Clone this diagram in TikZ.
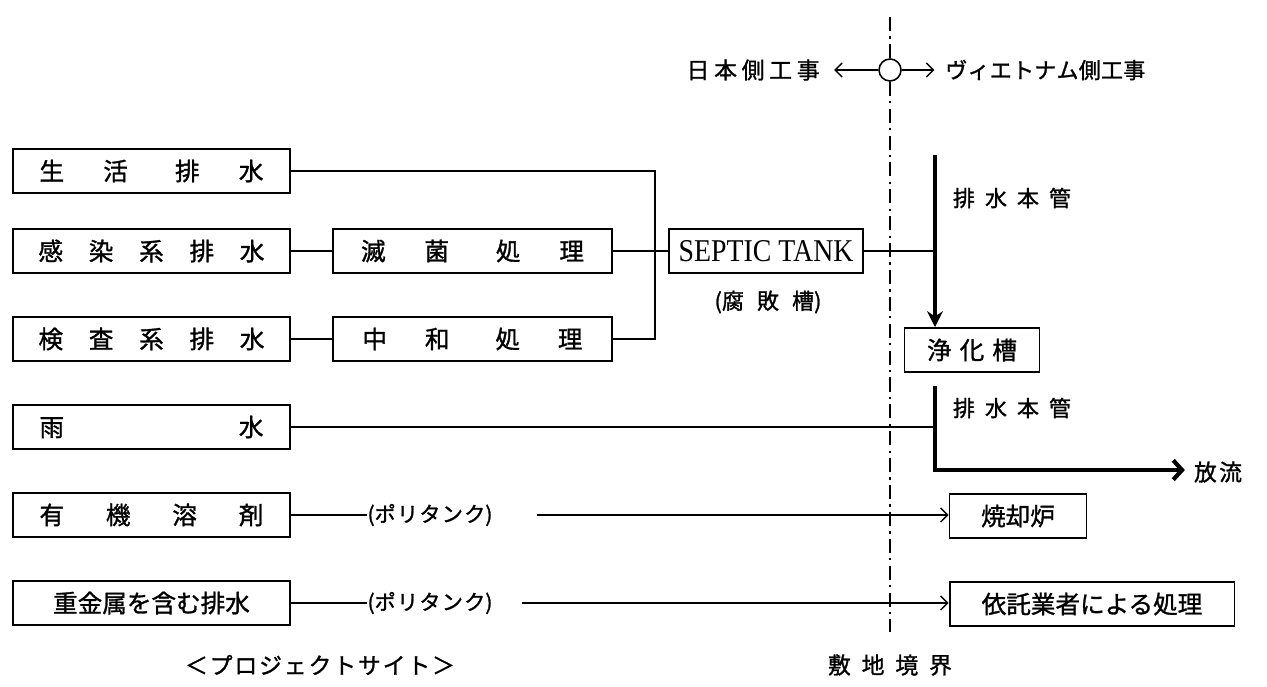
\documentclass[tikz,border=0pt]{standalone}
\usepackage{fontspec}
\setmainfont{Liberation Serif}
\newfontfamily\jp[AutoFakeBold=1.2]{Noto Sans CJK JP}
\usetikzlibrary{arrows.meta}
\newdimen\px \px=0.56906pt
\def\pxv{0.56906pt}
\newcommand\spr[2]{\makebox[#1\px][s]{#2}}
\tikzset{
  bx/.style={draw, line width=1.1pt, inner sep=0pt, minimum height=44*\pxv, font=\jp\bfseries\fontsize{14}{16}\selectfont},
  lbox/.style={bx, minimum width=277*\pxv},
  mbox/.style={bx, minimum width=279*\pxv},
  lab/.style={inner sep=0pt, font=\jp\bfseries\fontsize{12.5}{14}\selectfont},
  ln/.style={line width=0.8pt},
  pipe/.style={line width=2.4pt},
  bnd/.style={line width=1.5pt, dash pattern=on 8pt off 3pt on 1.3pt off 3pt},
  thin arrow/.style={-{Straight Barb[length=4pt,width=8pt]}},
}
\begin{document}
\begin{tikzpicture}[x=0.02cm,y=-0.02cm]
\useasboundingbox (0,0) rectangle (1267,686);

% left column
\node[lbox] (seikatsu) at (151.5,171) {\spr{224}{生\hfill 活\hfill\hskip 8\px 排\hfill 水}};
\node[lbox] (kansen) at (151.5,251) {\spr{226}{感\hfill 染\hfill 系\hfill 排\hfill 水}};
\node[lbox] (kensa) at (151.5,339) {\spr{226}{検\hfill 査\hfill 系\hfill 排\hfill 水}};
\node[lbox] (amamizu) at (151.5,427) {\spr{224}{雨\hfill 水}};
\node[lbox] (yuuki) at (151.5,515) {\spr{224}{有\hfill 機\hfill 溶\hfill 剤}};
\node[lbox] (juukin) at (151.5,603) {重金属を含む排水};

% middle column
\node[mbox] (mekkin) at (472.5,251) {\spr{223}{滅\hfill 菌\hfill\hskip 8\px 処\hfill 理}};
\node[mbox] (chuwa) at (472.5,339) {\spr{220}{中\hfill 和\hfill\hskip 8\px 処\hfill 理}};

\node[bx, minimum width=194*\pxv] (septic) at (766,251) {\rmfamily\mdseries\resizebox{175\px}{21\px}{SEPTIC TANK}};
\node[lab] (fuhai) at (768,302) {\spr{107}{(腐\hfill 敗\hfill 槽)}};

% right side
\node[bx, minimum width=135*\pxv] (jouka) at (972,350) {\spr{90}{浄\hfill 化\hfill 槽}};
\node[bx, minimum width=137*\pxv] (yakyaku) at (1018,516) {焼却炉};
\node[bx, minimum width=285*\pxv] (itaku) at (1092,604) {依託業者による処理};

\node[lab] (haisui1) at (1012,198) {\spr{118}{排\hfill 水\hfill 本\hfill 管}};
\node[lab] (haisui2) at (1012,408) {\spr{118}{排\hfill 水\hfill 本\hfill 管}};
\node[lab, font=\jp\bfseries\fontsize{13}{15}\selectfont] (houryu) at (1218,472) {\spr{48}{放\hfill 流}};

\node[lab, font=\jp\bfseries\fontsize{12}{14}\selectfont] (poly1) at (430,515) {\spr{125}{(ポ\hfill リ\hfill タ\hfill ン\hfill ク)}};
\node[lab, font=\jp\bfseries\fontsize{12}{14}\selectfont] (poly2) at (430,603) {\spr{125}{(ポ\hfill リ\hfill タ\hfill ン\hfill ク)}};

\node[lab, font=\jp\bfseries\fontsize{13}{15}\selectfont] (site) at (320,665) {\spr{270}{＜\hfill プ\hfill ロ\hfill ジ\hfill ェ\hfill ク\hfill ト\hfill サ\hfill イ\hfill ト\hfill ＞}};
\node[lab, font=\jp\bfseries\fontsize{13}{15}\selectfont] (shikichi) at (890,665) {\spr{124}{敷\hfill 地\hfill 境\hfill 界}};

% boundary
\node[draw, circle, line width=0.9pt, minimum size=22*\pxv, inner sep=0pt] (circ) at (890,70) {};
\coordinate (btop) at (890,17);
\coordinate (bbot) at (890,632);
\draw[bnd] (btop) -- (circ);
\draw[bnd] (circ) -- (bbot);
\node[lab, font=\jp\bfseries\fontsize{13}{15}\selectfont, anchor=east] (nihon) at (820,70) {\spr{133}{日\hfill 本\hfill 側\hfill 工\hfill 事}};
\node[lab, anchor=west] (viet) at (945,70) {\spr{200}{ヴ\hfill ィ\hfill エ\hfill ト\hfill ナ\hfill ム\hfill 側\hfill 工\hfill 事}};
\draw[ln, thin arrow, shorten >=8pt] (circ) -- (nihon);
\draw[ln, thin arrow, shorten >=6pt] (circ) -- (viet);

% connectors
\coordinate (bt) at (655,171);
\coordinate (bb) at (655,339);
\draw[ln] (seikatsu.east) -- (bt) -- (bb) -- (chuwa.east);
\draw[ln] (kansen) -- (mekkin);
\draw[ln] (kensa) -- (chuwa);
\draw[ln] (mekkin) -- (septic);
\coordinate (j1) at (935,251);
\draw[ln] (septic.east) -- (j1);

\coordinate (ptop) at (935,155);
\draw[pipe, -{Stealth[length=9pt,width=9pt,inset=3pt]}] (ptop) -- (ptop |- jouka.north);
\coordinate (p2) at (935,386);
\coordinate (pc) at (935,470);
\draw[pipe, -{Straight Barb[length=5pt,width=11pt]}, shorten >=5pt] (p2) -- (pc) -- (houryu.west |- pc);

\coordinate (j2) at (935,427);
\draw[ln] (amamizu.east) -- (j2);

\draw[ln] (yuuki.east) -- (poly1.west);
\coordinate (l1) at (537,515);
\draw[ln, thin arrow] (l1) -- (yakyaku.west |- l1);

\draw[ln] (juukin.east) -- (poly2.west);
\coordinate (l2) at (522,603);
\draw[ln, thin arrow] (l2) -- (itaku.west |- l2);
\end{tikzpicture}
\end{document}
